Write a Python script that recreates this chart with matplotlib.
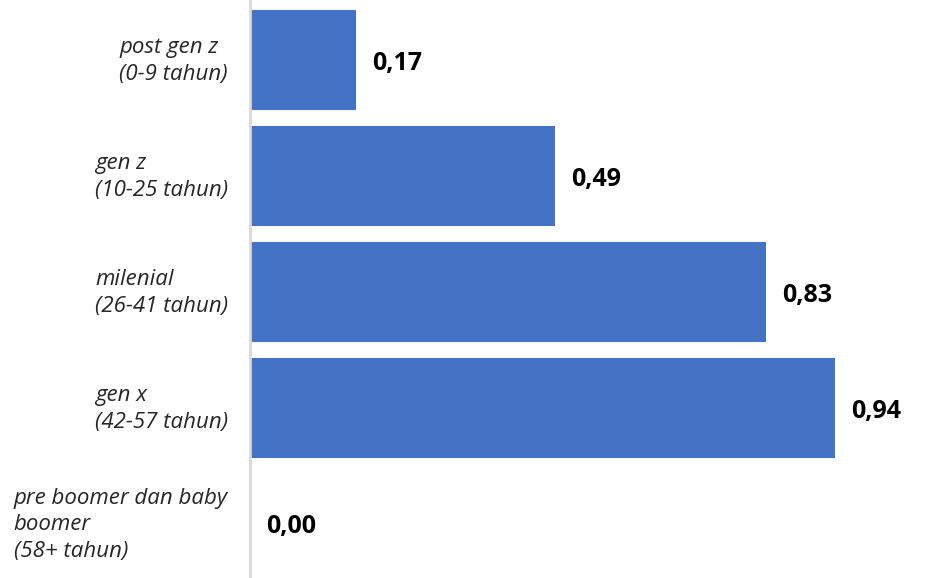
import matplotlib
matplotlib.use('Agg')
import matplotlib.pyplot as plt

# data
categories = ['post gen z\n(0-9 tahun)',
              'gen z\n(10-25 tahun)',
              'milenial\n(26-41 tahun)',
              'gen x\n(42-57 tahun)',
              'pre boomer dan baby\nboomer\n(58+ tahun)']
values = [0.17, 0.49, 0.83, 0.94, 0.00]
value_labels = ['0,17', '0,49', '0,83', '0,94', '0,00']

W, H = 927, 578
fig = plt.figure(figsize=(W / 100, H / 100), dpi=100)
ax = fig.add_axes([250 / W, 0, 1 - 250 / W, 1])

ypos = list(range(len(categories)))
ax.barh(ypos, values, height=100 / 116, color='#4472C4')

ax.set_xlim(0, 677 / 622)
ax.set_ylim((578 - 60) / 116, -60 / 116)

for y, v, lab in zip(ypos, values, value_labels):
    ax.text(v + 16 / 622, y + 3 / 116, lab, ha='left', va='center',
            fontsize=18, fontweight='bold', family='Open Sans', color='black')

ax.set_yticks(ypos)
ax.set_yticklabels([])
for y, cat in zip(ypos, categories):
    ax.text(-22 / 622, y + 1 / 116, cat, ha='right', va='center', multialignment='left',
            fontsize=16, style='italic', family='Open Sans', color='#262626',
            linespacing=1.32)

ax.set_xticks([])
ax.tick_params(left=False)
for s in ['top', 'right', 'bottom']:
    ax.spines[s].set_visible(False)
ax.spines['left'].set_color('#d9d9d9')
ax.spines['left'].set_linewidth(2)

fig.savefig('out.png', dpi=100)
